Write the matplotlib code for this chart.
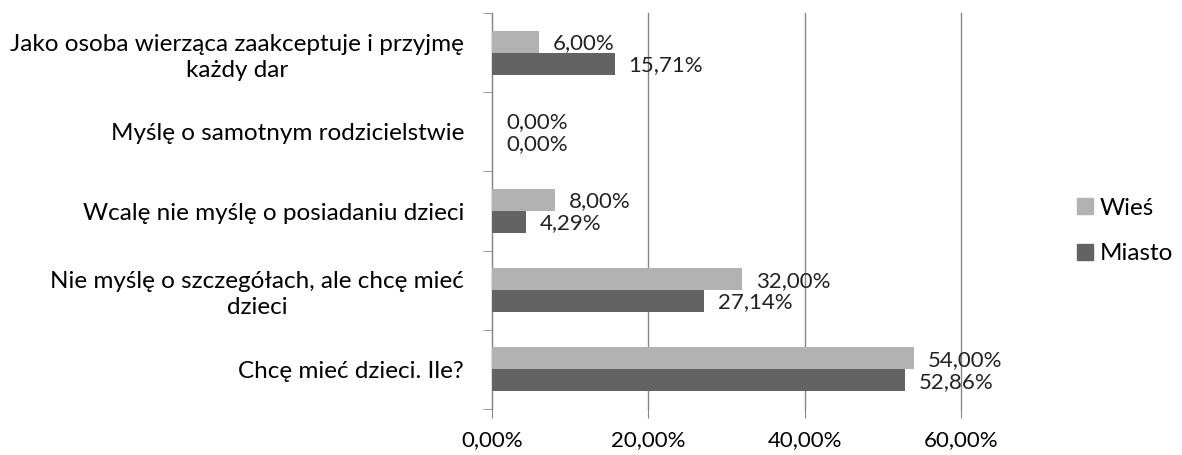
import matplotlib.pyplot as plt
import numpy as np
from matplotlib.patches import Patch

plt.rcParams['font.family'] = ['Lato', 'DejaVu Sans']

categories = [
    'Chcę mieć dzieci. Ile?',
    'Nie myślę o szczegółach, ale chcę mieć\ndzieci',
    'Wcalę nie myślę o posiadaniu dzieci',
    'Myślę o samotnym rodzicielstwie',
    'Jako osoba wierząca zaakceptuje i przyjmę\nkażdy dar',
]
wies = [54.00, 32.00, 8.00, 0.00, 6.00]
miasto = [52.86, 27.14, 4.29, 0.00, 15.71]

c_wies = '#b2b2b2'
c_miasto = '#636363'
grid_c = '#868686'

fig = plt.figure(figsize=(11.82, 4.55), dpi=100)
ax = fig.add_axes([492 / 1182, 1 - 409 / 455, (961 - 492) / 1182, (409 - 13) / 455])

y = np.arange(len(categories))
h = 0.277
ax.barh(y + h / 2, wies, height=h, color=c_wies, zorder=3)
ax.barh(y - h / 2, miasto, height=h, color=c_miasto, zorder=3)

def fmt(v):
    return f'{v:.2f}%'.replace('.', ',')

for yi, v in zip(y, wies):
    ax.annotate(fmt(v), (v, yi + h / 2), xytext=(10, -1), textcoords='offset points',
                va='center', ha='left', fontsize=16, color='#222222', zorder=4)
for yi, v in zip(y, miasto):
    ax.annotate(fmt(v), (v, yi - h / 2), xytext=(10, -1), textcoords='offset points',
                va='center', ha='left', fontsize=16, color='#222222', zorder=4)

ax.set_xlim(0, 60)
ax.set_ylim(-0.5, len(categories) - 0.5)
ax.set_xticks([0, 20, 40, 60])
ax.set_xticklabels([fmt(t) for t in [0, 20, 40, 60]], fontsize=16)
ax.xaxis.grid(True, color=grid_c, linewidth=1, zorder=0)
for gl in ax.get_xgridlines():
    gl.set_clip_on(False)

ax.set_yticks(y)
ax.set_yticklabels(categories, fontsize=17.5, ha='right', multialignment='center',
                   linespacing=1.3)
ax.set_yticks(np.arange(-0.5, len(categories)), minor=True)
ax.tick_params(axis='y', which='major', length=0, pad=20)
ax.tick_params(axis='y', which='minor', length=6.5, color=grid_c)
ax.tick_params(axis='x', length=6.5, color=grid_c, pad=9)

for s in ['top', 'right', 'bottom']:
    ax.spines[s].set_visible(False)
ax.spines['left'].set_color(grid_c)

handles = [Patch(color=c_wies), Patch(color=c_miasto)]
fig.legend(handles, ['Wieś', 'Miasto'], loc='center left',
           bbox_to_anchor=(1077 / 1182, 1 - 231 / 455), frameon=False,
           borderpad=0, borderaxespad=0,
           fontsize=17.5, labelspacing=1.0, handlelength=0.65, handleheight=0.65,
           handletextpad=0.3)

fig.savefig('out.png', dpi=100, facecolor='white')
